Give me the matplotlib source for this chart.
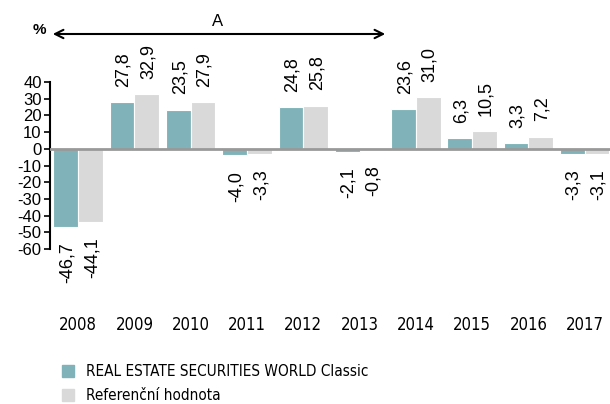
import matplotlib
matplotlib.use('Agg')
import matplotlib.pyplot as plt
from matplotlib import font_manager
import numpy as np
from matplotlib.patches import Patch, FancyArrowPatch

years = ['2008', '2009', '2010', '2011', '2012', '2013', '2014', '2015', '2016', '2017']
fund = [-46.7, 27.8, 23.5, -4.0, 24.8, -2.1, 23.6, 6.3, 3.3, -3.3]
bench = [-44.1, 32.9, 27.9, -3.3, 25.8, -0.8, 31.0, 10.5, 7.2, -3.1]
yticks = [40, 30, 20, 10, 0, -10, -20, -30, -40, -50, -60]

teal = '#80b3b9'
grey = '#d9d9d9'
plt.rcParams['font.family'] = ['Liberation Sans', 'DejaVu Sans']

# look for a condensed face for years and legend
narrow = None
for f in font_manager.fontManager.ttflist:
    if f.stretch in ('condensed', 'semi-condensed') and f.style == 'normal' and f.weight in (400, 'normal'):
        narrow = font_manager.FontProperties(fname=f.fname)
        break
if narrow is None:
    narrow = font_manager.FontProperties(family='Liberation Sans')
    leg_size = 10
    year_size = 11.5
else:
    leg_size = 11
    year_size = 12

W, H = 610, 404
fig = plt.figure(figsize=(W / 100, H / 100), dpi=100)
ax = fig.add_axes([50 / W, 1 - 249 / H, 560 / W, 167 / H])

x = np.arange(len(years))
bw = 0.44
ax.bar(x - bw / 2, fund, bw, color=teal, edgecolor='white', linewidth=0.8, zorder=2)
ax.bar(x + bw / 2, bench, bw, color=grey, edgecolor='white', linewidth=0.8, zorder=2)

def fmt(v):
    return ('%.1f' % v).replace('.', ',')

for vals, off in [(fund, -bw / 2), (bench, bw / 2)]:
    for i, v in enumerate(vals):
        pos = v >= 0
        ax.annotate(fmt(v), (x[i] + off, v), xytext=(1, 11 if pos else -11),
                    textcoords='offset points', rotation=90, ha='center',
                    va='bottom' if pos else 'top', fontsize=13,
                    family=['Liberation Sans', 'DejaVu Sans'], annotation_clip=False)

ax.axhline(0, color='#999999', lw=2, zorder=3)
ax.set_xlim(-0.5, 9.45)
ax.set_ylim(-60, 40)
ax.set_yticks(yticks)
ax.set_yticklabels([str(t) for t in yticks], fontsize=12)
ax.tick_params(axis='y', length=4, width=1.2, pad=2)
ax.set_xticks(x)
yp = narrow.copy()
yp.set_size(year_size)
ax.set_xticklabels(years, fontproperties=yp)
ax.tick_params(axis='x', length=0, pad=48)
for s in ['top', 'right', 'bottom']:
    ax.spines[s].set_visible(False)
ax.spines['left'].set_linewidth(1.5)

# period arrow
fig.add_artist(FancyArrowPatch(
    (50 / W, 1 - 34 / H), (388 / W, 1 - 34 / H), transform=fig.transFigure,
    arrowstyle='<->,head_length=6,head_width=3', lw=1.5, color='black',
    mutation_scale=1))
fig.text(218 / W, 1 - 22 / H, 'A', ha='center', va='center', fontsize=12)
fig.text(39 / W, 1 - 30 / H, '%', ha='center', va='center', fontsize=11, fontweight='bold')

lp = narrow.copy()
lp.set_size(leg_size)
handles = [Patch(color=teal, label='REAL ESTATE SECURITIES WORLD Classic'),
           Patch(color=grey, label='Referenční hodnota')]
fig.legend(handles=handles, loc='upper left', bbox_to_anchor=(62 / W, 1 - 364 / H),
           frameon=False, prop=lp, handlelength=0.8, handleheight=0.8,
           handletextpad=0.8, labelspacing=0.6, borderpad=0, borderaxespad=0)

fig.savefig('out.png', dpi=100)
